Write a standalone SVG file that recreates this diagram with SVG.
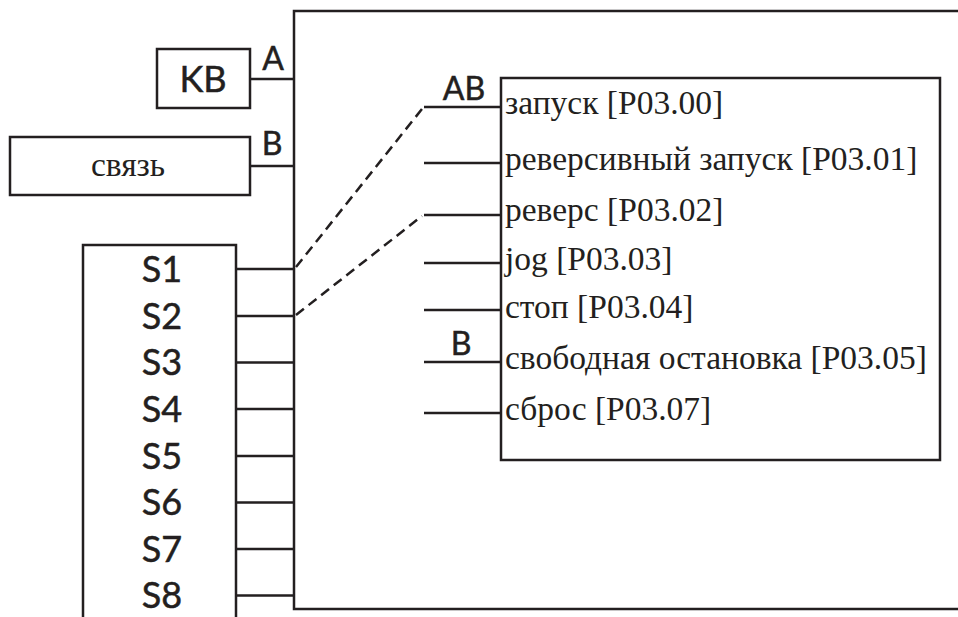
<svg xmlns="http://www.w3.org/2000/svg" width="958" height="617" viewBox="0 0 958 617">
<style>
.box{fill:#fff;stroke:#231f20;stroke-width:2.5}
.ln{fill:none;stroke:#231f20;stroke-width:2.5}
.dash{fill:none;stroke:#231f20;stroke-width:2.5;stroke-dasharray:10 6}
.sans{font-family:Lato,"Noto Sans",sans-serif;font-size:36px;fill:#231f20;stroke:#231f20;stroke-width:0.5;text-anchor:middle}
.lab{font-family:Lato,"Noto Sans",sans-serif;font-size:32px;fill:#231f20;stroke:#231f20;stroke-width:0.5;text-anchor:middle}
.ser{font-family:"Liberation Serif","Times New Roman",serif;font-size:33.5px;fill:#231f20}
</style>
<rect width="958" height="617" fill="#fff"/>
<g id="frame"><path class="ln" d="M962 11H294V609H962"/></g>
<g id="kb"><rect class="box" x="157" y="49" width="93" height="59"/><text class="sans" x="203" y="92">KB</text></g>
<g id="svyaz"><rect class="box" x="10" y="137" width="240" height="58"/><text class="ser" x="128" y="176" text-anchor="middle">связь</text></g>
<g id="s"><rect class="box" x="83" y="245" width="153" height="380"/>
<text class="sans" x="162" y="282">S1</text>
<text class="sans" x="162" y="329">S2</text>
<text class="sans" x="162" y="375">S3</text>
<text class="sans" x="162" y="422">S4</text>
<text class="sans" x="162" y="469">S5</text>
<text class="sans" x="162" y="515">S6</text>
<text class="sans" x="162" y="562">S7</text>
<text class="sans" x="162" y="608">S8</text>
</g>
<g id="func"><rect class="box" x="501" y="78" width="439" height="382"/>
<text class="ser" x="505" y="114">запуск [P03.00]</text>
<text class="ser" x="505" y="170">реверсивный запуск [P03.01]</text>
<text class="ser" x="505" y="221">реверс [P03.02]</text>
<text class="ser" x="505" y="270">jog [P03.03]</text>
<text class="ser" x="505" y="318">стоп [P03.04]</text>
<text class="ser" x="505" y="369">свободная остановка [P03.05]</text>
<text class="ser" x="505" y="420">сброс [P03.07]</text>
</g>
<g id="connectors">
<path class="ln" d="M250 79H294M250 166H294M236 269H294M236 316H294M236 362.5H294M236 409H294M236 456H294M236 502.5H294M236 549H294M236 595.5H294"/>
<path class="ln" d="M424 107H501M424 163H501M424 215H501M424 263H501M424 310H501M424 362H501M424 413H501"/>
<path class="dash" d="M296 267L422 109M296 315L422 216"/>
</g>
<g id="labels">
<text class="lab" x="273" y="70">A</text>
<text class="lab" x="272" y="155">B</text>
<text class="lab" x="464" y="100">AB</text>
<text class="lab" x="461" y="355">B</text>
</g>
</svg>
